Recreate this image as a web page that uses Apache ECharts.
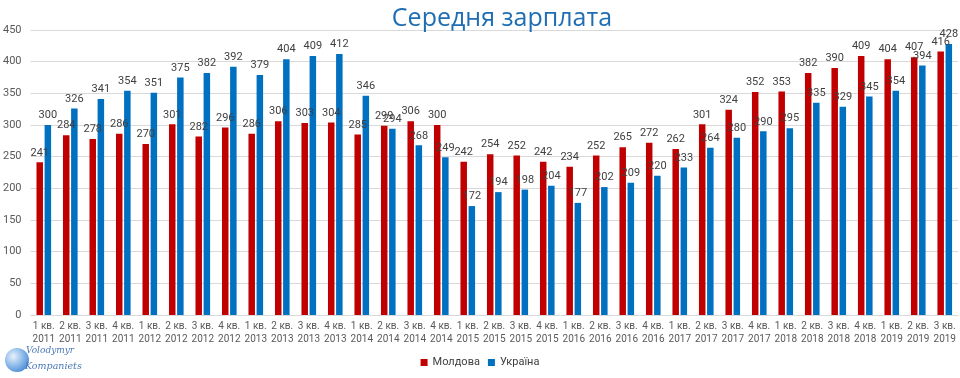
<!DOCTYPE html>
<html>
<head>
<meta charset="utf-8">
<script src="https://cdn.jsdelivr.net/npm/echarts@6/dist/echarts.min.js"></script>
<style>
html,body{margin:0;padding:0;background:#fff;}
#main{width:960px;height:378px;}
</style>
</head>
<body>
<div id="main"></div>
<script>
const categories = ["1 кв.\n2011","2 кв.\n2011","3 кв.\n2011","4 кв.\n2011","1 кв.\n2012","2 кв.\n2012","3 кв.\n2012","4 кв.\n2012","1 кв.\n2013","2 кв.\n2013","3 кв.\n2013","4 кв.\n2013","1 кв.\n2014","2 кв.\n2014","3 кв.\n2014","4 кв.\n2014","1 кв.\n2015","2 кв.\n2015","3 кв.\n2015","4 кв.\n2015","1 кв.\n2016","2 кв.\n2016","3 кв.\n2016","4 кв.\n2016","1 кв.\n2017","2 кв.\n2017","3 кв.\n2017","4 кв.\n2017","1 кв.\n2018","2 кв.\n2018","3 кв.\n2018","4 кв.\n2018","1 кв.\n2019","2 кв.\n2019","3 кв.\n2019"];
const moldova = [241,284,278,286,270,301,282,296,286,306,303,304,285,299,306,300,242,254,252,242,234,252,265,272,262,301,324,352,353,382,390,409,404,407,416];
const ukraine = [300,326,341,354,351,375,382,392,379,404,409,412,346,294,268,249,172,194,198,204,177,202,209,220,233,264,280,290,295,335,329,345,354,394,428];
const yTicks = [0,50,100,150,200,250,300,350,400,450];

const chart = echarts.init(document.getElementById('main'), null, {renderer:'canvas'});
const FONT = 'Roboto, "Noto Sans", sans-serif';
const labelCfg = {show:true, position:'top', distance:4, color:'#404040', fontSize:11, fontFamily:FONT};
chart.setOption({
  animation:false,
  backgroundColor:'#ffffff',
  title:{
    text:'Середня зарплата', left:497, top:1, textAlign:'center',
    textStyle:{color:'#1F6EB4', fontSize:25, fontWeight:'normal', fontFamily:'"Open Sans", sans-serif'}
  },
  legend:{
    data:['Молдова','Україна'], left:'center', top:352, itemWidth:7, itemHeight:7, itemGap:8,
    icon:'rect',
    textStyle:{color:'#404040', fontSize:11, fontFamily:FONT}
  },
  grid:{left:24, right:2, top:30, bottom:63},
  xAxis:{
    type:'category', data:categories,
    axisLine:{lineStyle:{color:'#D9D9D9'}},
    axisTick:{show:false},
    axisLabel:{color:'#595959', fontSize:10, fontFamily:FONT, interval:0, lineHeight:13, margin:5}
  },
  yAxis:{
    type:'value', min:0, max:450, interval:50,
    axisLine:{show:false}, axisTick:{show:false},
    splitLine:{lineStyle:{color:'#D9D9D9'}},
    axisLabel:{color:'#595959', fontSize:11, fontFamily:FONT, margin:9,
      formatter:function(v){return yTicks.indexOf(v)>=0?String(v):'';}}
  },
  series:[
    {name:'Молдова', type:'bar', data:moldova, barWidth:6.5, barGap:'25%',
     itemStyle:{color:'#C00000'}, label:labelCfg},
    {name:'Україна', type:'bar', data:ukraine, barWidth:6.5, barGap:'25%',
     itemStyle:{color:'#0070C0'}, label:labelCfg}
  ],
  graphic:[
    {type:'circle', shape:{cx:17, cy:360, r:12},
     style:{fill:new echarts.graphic.RadialGradient(0.35,0.35,0.8,[{offset:0,color:'#E8F1FB'},{offset:0.5,color:'#8DBBEA'},{offset:1,color:'#3C80CF'}])}},
    {type:'text', left:26, top:346, style:{text:'Volodymyr', fill:'#4A78B8', font:'italic 9px "DejaVu Serif", serif'}},
    {type:'text', left:25, top:362, style:{text:'Kompaniets', fill:'#4A78B8', font:'italic 9.5px "DejaVu Serif", serif'}}
  ]
});
</script>
</body>
</html>
